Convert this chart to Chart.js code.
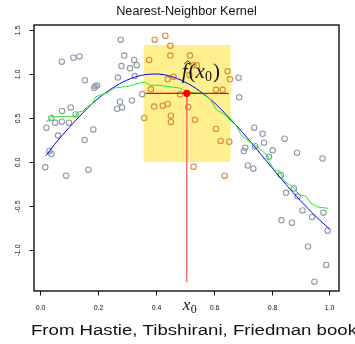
<!DOCTYPE html>
<html>
<head>
<meta charset="utf-8">
<title>Nearest-Neighbor Kernel</title>
<script src="https://cdn.jsdelivr.net/npm/chart.js@4/dist/chart.umd.min.js"></script>
<style>
  html, body { margin: 0; padding: 0; background: #fff; }
  #wrap { width: 355px; height: 344px; }
</style>
</head>
<body>
<div id="wrap"><canvas id="chart" width="355" height="344"></canvas></div>
<script>
// ---- data ----
var TITLE = "Nearest-Neighbor Kernel";
var CAPTION = "From Hastie, Tibshirani, Friedman book";

// points outside the neighbourhood (grey)
var GRAY_X = [0.022, 0.032, 0.039, 0.018, 0.090, 0.167, 0.062, 0.154, 0.184, 0.039, 0.052, 0.075, 0.100,
  0.123, 0.076, 0.106, 0.075, 0.115, 0.136, 0.155, 0.187, 0.191, 0.197, 0.266, 0.283, 0.276, 0.317,
  0.269, 0.327, 0.353, 0.279, 0.291, 0.325, 0.334, 0.281, 0.311, 0.686, 0.688, 0.740, 0.769, 0.774,
  0.845, 0.709, 0.704, 0.743, 0.804, 0.791, 0.888, 0.976, 0.718, 0.737, 0.832, 0.850, 0.877, 0.890,
  0.907, 0.940, 0.979, 0.834, 0.870, 0.994, 0.926, 0.989, 0.948];
var GRAY_Y = [0.39, 0.125, 0.09, -0.06, -0.155, -0.087, 0.30, 0.25, 0.37, 0.50, 0.447, 0.458, 0.447,
  0.54, 0.58, 0.62, 1.14, 1.185, 1.20, 0.93, 0.84, 0.86, 0.87, 0.605, 0.62, 0.685, 0.70,
  0.96, 0.977, 0.77, 1.39, 1.21, 1.16, 1.10, 1.09, 1.065, 0.958, 0.735, 0.39, 0.32, 0.22,
  0.265, 0.163, 0.125, 0.18, 0.133, 0.06, 0.106, 0.04, -0.04, -0.076, -0.148, -0.35, -0.30, -0.39,
  -0.55, -0.625, -0.576, -0.663, -0.69, -0.78, -0.96, -1.17, -1.36];

// the 30 nearest neighbours of x0 (orange)
var NN_X = [0.360, 0.396, 0.433, 0.450, 0.377, 0.450, 0.518, 0.530, 0.542, 0.516, 0.648, 0.656, 0.441,
  0.461, 0.383, 0.484, 0.608, 0.631, 0.394, 0.424, 0.441, 0.512, 0.452, 0.452, 0.535, 0.608, 0.624,
  0.654, 0.530, 0.638];
var NN_Y = [0.50, 1.39, 1.435, 1.32, 1.16, 1.21, 1.21, 1.10, 1.10, 0.99, 1.03, 0.94, 0.94,
  0.97, 0.826, 0.77, 0.82, 0.82, 0.63, 0.64, 0.66, 0.625, 0.526, 0.455, 0.48, 0.375, 0.24,
  0.23, -0.053, -0.155];

// true curve (blue)
var TRUE_X = [0.02, 0.05, 0.10, 0.15, 0.20, 0.25, 0.30, 0.35, 0.40, 0.45, 0.50, 0.55, 0.60, 0.65,
  0.70, 0.75, 0.80, 0.85, 0.90, 0.95, 1.00];
var TRUE_Y = [0.07, 0.20, 0.39, 0.565, 0.72, 0.84, 0.93, 0.985, 1.0, 0.975, 0.91, 0.81, 0.68, 0.515,
  0.335, 0.14, -0.06, -0.255, -0.44, -0.61, -0.76];

// nearest-neighbour fit (green)
var FIT_X = [0.020, 0.035, 0.039, 0.123, 0.129, 0.150, 0.163, 0.180, 0.192, 0.207, 0.227, 0.240, 0.256,
  0.290, 0.305, 0.325, 0.359, 0.380, 0.415, 0.449, 0.484, 0.507, 0.530, 0.558, 0.587, 0.610, 0.633,
  0.662, 0.677, 0.694, 0.723, 0.752, 0.769, 0.787, 0.792, 0.809, 0.827, 0.844, 0.873, 0.896, 0.919,
  0.936, 0.959, 0.994];
var FIT_Y = [0.466, 0.466, 0.515, 0.515, 0.565, 0.58, 0.63, 0.66, 0.74, 0.76, 0.78, 0.80, 0.84,
  0.855, 0.86, 0.88, 0.91, 0.875, 0.87, 0.855, 0.84, 0.80, 0.79, 0.78, 0.72, 0.59, 0.55,
  0.46, 0.42, 0.31, 0.23, 0.17, 0.12, 0.07, 0.003, -0.09, -0.10, -0.22, -0.28, -0.375, -0.39,
  -0.47, -0.51, -0.526];

var X0 = 0.507;            // target point
var FHAT = 0.78;           // fitted value at x0
var NBR_X = [0.357, 0.659]; // neighbourhood window
var NBR_Y = [0, 1.33];
var HLINE_X = [0.365, 0.652];
var VLINE_BOTTOM = -1.367;

var X_TICKS = [0, 0.2, 0.4, 0.6, 0.8, 1.0];
var X_LABELS = ["0.0", "0.2", "0.4", "0.6", "0.8", "1.0"];
var Y_TICKS = [-1, -0.5, 0, 0.5, 1, 1.5];
var Y_LABELS = ["-1.0", "-0.5", "0.0", "0.5", "1.0", "1.5"];

function pts(xs, ys) {
  return xs.map(function (x, i) { return { x: x, y: ys[i] }; });
}

// text stretched sideways like the scanned figure
function wideText(ctx, txt, x, y, sx) {
  ctx.save();
  ctx.translate(x, y);
  ctx.scale(sx, 1);
  ctx.fillText(txt, 0, 0);
  ctx.restore();
}

// box, ticks, labels in R style
var rAxes = {
  id: "rAxes",
  afterDraw: function (chart) {
    var ctx = chart.ctx, a = chart.chartArea;
    var sx = chart.scales.x, sy = chart.scales.y;
    ctx.save();
    ctx.strokeStyle = "#111";
    ctx.lineWidth = 1.4;
    ctx.strokeRect(a.left, a.top, a.right - a.left, a.bottom - a.top);

    ctx.lineWidth = 1;
    ctx.fillStyle = "#111";
    ctx.font = "7px 'Liberation Sans', Arial, sans-serif";
    ctx.textAlign = "center";
    ctx.textBaseline = "middle";
    X_TICKS.forEach(function (v, i) {
      var px = Math.round(sx.getPixelForValue(v)) + 0.5;
      ctx.beginPath(); ctx.moveTo(px, a.bottom); ctx.lineTo(px, a.bottom + 4.5); ctx.stroke();
      ctx.fillText(X_LABELS[i], px, a.bottom + 17);
    });
    Y_TICKS.forEach(function (v, i) {
      var py = Math.round(sy.getPixelForValue(v)) + 0.5;
      ctx.beginPath(); ctx.moveTo(a.left, py); ctx.lineTo(a.left - 4.5, py); ctx.stroke();
      ctx.save();
      ctx.translate(a.left - 15.5, py);
      ctx.rotate(-Math.PI / 2);
      ctx.fillText(Y_LABELS[i], 0, 0);
      ctx.restore();
    });

    // x0 under the axis
    var x0p = sx.getPixelForValue(X0);
    ctx.textAlign = "left";
    ctx.textBaseline = "alphabetic";
    ctx.font = "italic 17px 'Liberation Serif', serif";
    ctx.fillText("x", x0p - 4, a.bottom + 19);
    ctx.font = "12px 'Liberation Serif', serif";
    ctx.fillText("0", x0p + 4, a.bottom + 22);

    // f-hat(x0) label
    var lx = x0p - 5, ly = sy.getPixelForValue(FHAT) - 15;
    ctx.font = "italic 21px 'Liberation Serif', serif";
    ctx.fillText("f", lx, ly);
    ctx.beginPath();
    ctx.moveTo(lx + 2.5, ly - 14.5); ctx.lineTo(lx + 6, ly - 17.5); ctx.lineTo(lx + 9.5, ly - 14.5);
    ctx.lineWidth = 0.9; ctx.stroke();
    var cx = lx + ctx.measureText("f").width + 1;
    ctx.font = "21px 'Liberation Serif', serif";
    ctx.fillText("(", cx, ly); cx += ctx.measureText("(").width;
    ctx.font = "italic 21px 'Liberation Serif', serif";
    ctx.fillText("x", cx, ly); cx += ctx.measureText("x").width;
    ctx.font = "14px 'Liberation Serif', serif";
    ctx.fillText("0", cx, ly + 3); cx += ctx.measureText("0").width + 1;
    ctx.font = "21px 'Liberation Serif', serif";
    ctx.fillText(")", cx, ly);

    // title and caption
    ctx.textAlign = "center";
    ctx.textBaseline = "middle";
    ctx.font = "12px 'Liberation Sans', Arial, sans-serif";
    wideText(ctx, TITLE, (a.left + a.right) / 2, 12, 1.06);
    ctx.textAlign = "left";
    ctx.font = "15.5px 'Liberation Sans', Arial, sans-serif";
    wideText(ctx, CAPTION, 31, 331, 1.2);
    ctx.restore();
  }
};

new Chart(document.getElementById("chart"), {
  type: "scatter",
  data: {
    datasets: [
      { label: "fhat", data: [{ x: X0, y: FHAT }], pointRadius: 3.6, pointBackgroundColor: "#ff0000",
        pointBorderColor: "#ff0000", pointBorderWidth: 0 },
      { label: "h", data: [{ x: HLINE_X[0], y: FHAT }, { x: HLINE_X[1], y: FHAT }], showLine: true,
        borderColor: "#ff0000", borderWidth: 1.3, pointRadius: 0 },
      { label: "v", data: [{ x: X0, y: FHAT }, { x: X0, y: VLINE_BOTTOM }], showLine: true,
        borderColor: "#ff5a5a", borderWidth: 1.3, pointRadius: 0 },
      { label: "fit", data: pts(FIT_X, FIT_Y), showLine: true, borderColor: "#22ee22", borderWidth: 1,
        pointRadius: 0, tension: 0 },
      { label: "true", data: pts(TRUE_X, TRUE_Y), showLine: true, borderColor: "#0000ff", borderWidth: 1,
        pointRadius: 0, tension: 0.4, cubicInterpolationMode: "monotone" },
      { label: "nn", data: pts(NN_X, NN_Y), pointRadius: 2.7, pointBorderWidth: 1.1,
        pointBorderColor: "#d98a35", pointBackgroundColor: "rgba(0,0,0,0)" },
      { label: "gray", data: pts(GRAY_X, GRAY_Y), pointRadius: 2.7, pointBorderWidth: 1.1,
        pointBorderColor: "#8e9aab", pointBackgroundColor: "rgba(0,0,0,0)" },
      { label: "window", data: [{ x: NBR_X[0], y: NBR_Y[0] }, { x: NBR_X[0], y: NBR_Y[1] },
          { x: NBR_X[1], y: NBR_Y[1] }, { x: NBR_X[1], y: NBR_Y[0] }],
        showLine: true, fill: "origin", backgroundColor: "#fef08e", borderWidth: 0, pointRadius: 0 }
    ]
  },
  options: {
    responsive: false,
    animation: false,
    layout: { padding: { left: 34, right: 16, top: 25, bottom: 53 } },
    scales: {
      x: { type: "linear", display: false, min: -0.021, max: 1.033 },
      y: { type: "linear", display: false, min: -1.466, max: 1.557 }
    },
    plugins: { legend: { display: false }, tooltip: { enabled: false } }
  },
  plugins: [rAxes]
});
</script>
</body>
</html>
